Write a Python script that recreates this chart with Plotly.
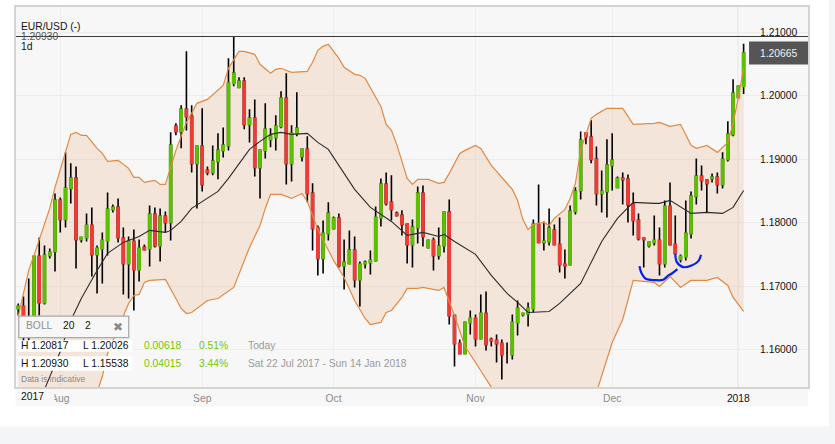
import plotly.graph_objects as go

high = [1.16728,1.16838,1.17121,1.17468,1.17767,1.17641,1.17594,1.18460,1.18397,1.19106,
1.18933,1.18885,1.17767,1.18145,1.18240,1.17641,1.17846,1.18476,1.18287,1.18381,
1.17925,1.17783,1.17893,1.17736,1.17657,1.18271,1.18240,1.18224,1.18177,1.19421,
1.19563,1.19846,1.20696,1.19846,1.19216,1.19799,1.18885,1.19216,1.19405,1.19499,
1.20586,1.20930,1.20287,1.20287,1.19783,1.19940,1.19137,1.19878,1.19484,1.19689,
1.20067,1.20350,1.19531,1.20051,1.19153,1.19358,1.18618,1.17956,1.18035,1.18319,
1.18098,1.18145,1.17736,1.17878,1.17783,1.17389,1.17405,1.17563,1.18255,1.18696,
1.18791,1.18744,1.18177,1.18193,1.17972,1.18051,1.18570,1.18586,1.17736,1.17767,
1.17925,1.18177,1.18366,1.16539,1.16161,1.16444,1.16618,1.16555,1.16870,1.16917,
1.16193,1.16240,1.16161,1.16114,1.16555,1.16775,1.16570,1.16744,1.18051,1.18602,
1.18019,1.18224,1.17972,1.18082,1.17578,1.18271,1.18555,1.19436,1.19405,1.19610,
1.19200,1.18822,1.19311,1.19405,1.18728,1.18791,1.18759,1.18476,1.18145,1.17752,
1.17704,1.18114,1.17925,1.18350,1.18633,1.18114,1.17500,1.18350,1.18492,1.19011,
1.18901,1.18681,1.18775,1.18791,1.19106,1.19594,1.20256,1.20146,1.20817]
low = [1.16539,1.16066,1.16145,1.16303,1.16539,1.16712,1.17437,1.17232,1.17846,1.17925,
1.18303,1.17279,1.17689,1.17704,1.17153,1.16885,1.17043,1.17484,1.18161,1.17689,
1.16870,1.16806,1.16618,1.17075,1.17563,1.17310,1.17610,1.17389,1.17846,1.17720,
1.19374,1.19169,1.19452,1.18791,1.18224,1.18492,1.18744,1.18744,1.18681,1.19027,
1.19137,1.20146,1.20114,1.19468,1.19263,1.18728,1.18381,1.19011,1.19185,1.19137,
1.19484,1.18602,1.18649,1.19358,1.18964,1.18319,1.17563,1.17169,1.17200,1.17720,
1.17893,1.17295,1.16948,1.17358,1.16980,1.16681,1.17279,1.17185,1.17389,1.17941,
1.18271,1.18035,1.18098,1.17799,1.17358,1.17295,1.17673,1.17626,1.17594,1.17248,
1.17421,1.17531,1.16397,1.15736,1.15941,1.15941,1.16240,1.16051,1.16161,1.15988,
1.16051,1.15799,1.15531,1.15783,1.15846,1.16224,1.16523,1.16366,1.16586,1.17689,
1.17563,1.17641,1.17657,1.17216,1.17122,1.17326,1.18130,1.18366,1.19232,1.18933,
1.18271,1.18161,1.18082,1.18507,1.18555,1.18287,1.18004,1.17799,1.17720,1.17295,
1.17610,1.17641,1.17169,1.17295,1.17641,1.17516,1.17374,1.17405,1.17752,1.18287,
1.18507,1.18161,1.18633,1.18460,1.18539,1.18964,1.19358,1.19972,1.20026]
open_ = [1.16649,1.16681,1.16303,1.16429,1.17468,1.16744,1.17484,1.17547,1.18350,1.18051,
1.18539,1.18696,1.17736,1.17767,1.17956,1.17500,1.17594,1.17720,1.18208,1.18240,
1.17752,1.17358,1.17704,1.17263,1.17610,1.17594,1.18130,1.17641,1.18098,1.18004,
1.19515,1.19436,1.19783,1.19673,1.18933,1.19200,1.18822,1.18791,1.18964,1.19137,
1.19216,1.20193,1.20130,1.20224,1.19547,1.19641,1.18870,1.19137,1.19311,1.19342,
1.19515,1.19956,1.18933,1.19405,1.19043,1.19153,1.18460,1.17909,1.17437,1.17830,
1.17909,1.18067,1.17326,1.17358,1.17563,1.17106,1.17358,1.17374,1.17405,1.18082,
1.18602,1.18319,1.18145,1.18114,1.17972,1.17657,1.17925,1.18460,1.17610,1.17720,
1.17484,1.17641,1.18161,1.16539,1.16098,1.15941,1.16429,1.16492,1.16177,1.16570,
1.16161,1.16145,1.16098,1.15956,1.15925,1.16429,1.16555,1.16570,1.16649,1.17972,
1.17689,1.17704,1.17878,1.17657,1.17342,1.17342,1.18177,1.18507,1.19405,1.19342,
1.18996,1.18460,1.18492,1.18901,1.18555,1.18696,1.18681,1.18287,1.18035,1.17752,
1.17641,1.17689,1.17720,1.17358,1.18255,1.17657,1.17421,1.17468,1.17830,1.18413,
1.18728,1.18665,1.18696,1.18712,1.18602,1.18996,1.19389,1.19972,1.20147]
close = [1.16681,1.16224,1.16492,1.17468,1.16744,1.17484,1.17531,1.18350,1.18051,1.18539,
1.18696,1.17736,1.17767,1.17956,1.17500,1.17594,1.17720,1.18208,1.18240,1.17767,
1.17358,1.17704,1.17263,1.17594,1.17578,1.18130,1.17641,1.18098,1.18004,1.19216,
1.19436,1.19783,1.19673,1.18933,1.19200,1.18602,1.18791,1.18964,1.19137,1.19216,
1.20193,1.20350,1.20224,1.19547,1.19641,1.18870,1.19137,1.19468,1.19358,1.19515,
1.19956,1.18933,1.19405,1.19484,1.19153,1.18460,1.17909,1.17437,1.17830,1.18145,
1.18067,1.17326,1.17374,1.17563,1.17106,1.17342,1.17374,1.17405,1.18082,1.18602,
1.18303,1.18208,1.18114,1.17972,1.17657,1.17925,1.18460,1.17783,1.17720,1.17484,
1.17626,1.18161,1.16539,1.16098,1.15941,1.16429,1.16492,1.16177,1.16570,1.16082,
1.16145,1.16098,1.15925,1.15956,1.16429,1.16649,1.16570,1.16649,1.17972,1.17689,
1.17704,1.17909,1.17657,1.17342,1.17326,1.18177,1.18492,1.19295,1.19358,1.18996,
1.18460,1.18492,1.18901,1.18980,1.18696,1.18681,1.18287,1.18035,1.17752,1.17736,
1.17689,1.17720,1.17358,1.18255,1.17657,1.17516,1.17468,1.17830,1.18413,1.18728,
1.18665,1.18618,1.18712,1.18602,1.18996,1.19389,1.20035,1.20146,1.20665]
session = list(range(len(close)))

upper_at = [0,2,3,6,7,9,10,11,12,13,15,16,17,19,21,22,23,24,26,27,28,30,32,33,34,36,39,40,42,43,45,46,48,49,50,52,55,56,57,58,59,61,62,64,65,66,69,70,71,72,74,75,76,78,80,81,82,84,85,87,88,90,94,95,96,97,98,100,101,102,104,105,106,107,108,109,110,112,115,117,121,122,124,126,128,129,131,133,135,136,137,138]
upper = [1.16524,1.17248,1.17484,1.18224,1.18555,1.19090,1.19389,1.19421,1.19374,1.19374,1.19169,1.19090,1.18964,1.18980,1.18854,1.18712,1.18712,1.18633,1.18665,1.18602,1.18602,1.19137,1.19578,1.19720,1.19878,1.19940,1.20161,1.20429,1.20696,1.20696,1.20649,1.20492,1.20350,1.20413,1.20429,1.20366,1.20381,1.20523,1.20712,1.20775,1.20807,1.20586,1.20444,1.20334,1.20319,1.20271,1.19830,1.19547,1.19452,1.19232,1.18696,1.18602,1.18681,1.18681,1.18618,1.18633,1.18775,1.19090,1.19137,1.19216,1.19169,1.18901,1.18523,1.18350,1.18051,1.17893,1.17972,1.18004,1.17956,1.18067,1.18208,1.18381,1.18618,1.19137,1.19405,1.19641,1.19704,1.19799,1.19799,1.19547,1.19563,1.19578,1.19515,1.19547,1.19216,1.19169,1.19216,1.19106,1.19263,1.19563,1.19972,1.20429]
lower_at = [0,8,15,16,17,21,22,23,24,25,28,30,31,32,33,36,38,41,42,44,46,47,48,50,52,54,55,56,57,60,62,64,66,67,69,70,71,73,74,76,77,80,81,83,85,87,89,91,95,99,103,105,108,109,110,112,113,115,116,117,121,122,124,126,128,131,133,135,136,138]
lower = [1.14728,1.15043,1.15326,1.15578,1.15941,1.16728,1.16854,1.16870,1.17059,1.17090,1.17106,1.16806,1.16649,1.16570,1.16586,1.16775,1.16806,1.16980,1.17185,1.17610,1.17956,1.18224,1.18444,1.18444,1.18381,1.18460,1.18334,1.18114,1.17893,1.17405,1.17137,1.16775,1.16492,1.16397,1.16429,1.16586,1.16618,1.16822,1.16964,1.16964,1.16980,1.16933,1.16980,1.16539,1.16051,1.15799,1.15547,1.15279,1.14885,1.14413,1.14098,1.14570,1.14728,1.15200,1.15326,1.15877,1.16114,1.16476,1.16775,1.17090,1.17059,1.16996,1.17153,1.16980,1.17090,1.17090,1.17137,1.17011,1.16822,1.16602]
middle_at = [5,8,10,12,15,17,20,23,25,28,29,31,33,36,38,40,42,44,46,48,50,52,55,57,59,62,64,67,71,74,77,80,81,83,87,90,93,95,97,101,103,107,111,114,117,121,122,124,127,128,131,134,136,138]
middle = [1.15374,1.15972,1.16460,1.16806,1.17248,1.17516,1.17689,1.17783,1.17878,1.17846,1.17878,1.18019,1.18224,1.18381,1.18492,1.18696,1.18933,1.19153,1.19279,1.19389,1.19421,1.19389,1.19405,1.19263,1.19153,1.18775,1.18523,1.18240,1.18019,1.17799,1.17846,1.17783,1.17815,1.17704,1.17500,1.17169,1.16885,1.16744,1.16586,1.16602,1.16728,1.17043,1.17704,1.18067,1.18319,1.18303,1.18303,1.18350,1.18193,1.18145,1.18161,1.18145,1.18240,1.18507]

sketch1_at = [118.2,118.5,119.4,121.2,122.7,123.7,124.3,125.4]
sketch1 = [1.17315,1.17220,1.17117,1.17095,1.17101,1.17169,1.17196,1.17268]
sketch2_at = [125.0,125.3,126.5,128.1,129.4,129.9]
sketch2 = [1.17511,1.17379,1.17300,1.17326,1.17394,1.17495]

price_ticks = [1.16,1.17,1.18,1.19,1.20,1.21]
price_labels = ["1.16000","1.17000","1.18000","1.19000","1.20000","1.21000"]
date_ticks = [8,35,60,87,113,137]
date_labels = ["Aug","Sep","Oct","Nov","Dec","<span style='color:#111'>2018</span>"]
period_high = 1.20930
last_price = "1.20665"

GREEN, RED = "#5cbf00", "#ee3b36"
FONT = "Liberation Sans"
L, R, T, B = 15.5, 808.0, 6.5, 386.7

def px(x): return (x - L) / (R - L)
def py(y): return 1 - (y - T) / (B - T)

YR = [1.15413, 1.21394]
XR = [-0.42, 150.25]

fig = go.Figure()
fig.add_trace(go.Scatter(x=upper_at, y=upper, mode="lines", line=dict(width=0), hoverinfo="skip", showlegend=False))
fig.add_trace(go.Scatter(x=lower_at, y=lower, mode="lines", line=dict(width=0), fill="tonexty",
                         fillcolor="rgba(232,182,140,0.28)", hoverinfo="skip", showlegend=False))

fig.add_trace(go.Candlestick(x=session, open=open_, high=high, low=low, close=close, yaxis="y2", showlegend=False,
    whiskerwidth=0,
    increasing=dict(line=dict(color="#000", width=1.6), fillcolor="#000"),
    decreasing=dict(line=dict(color="#000", width=1.6), fillcolor="#000")))

body = [k for k in session if open_[k] != close[k]]
fig.add_trace(go.Candlestick(x=body, open=[open_[k] for k in body], close=[close[k] for k in body],
    high=[max(open_[k], close[k]) for k in body], low=[min(open_[k], close[k]) for k in body],
    yaxis="y2", showlegend=False, whiskerwidth=0,
    increasing=dict(line=dict(color=GREEN, width=1.9), fillcolor=GREEN),
    decreasing=dict(line=dict(color=RED, width=1.9), fillcolor=RED)))

fig.add_trace(go.Scatter(x=upper_at, y=upper, yaxis="y2", mode="lines", line=dict(color="#e08a45", width=1.2), showlegend=False))
fig.add_trace(go.Scatter(x=lower_at, y=lower, yaxis="y2", mode="lines", line=dict(color="#e08a45", width=1.2), showlegend=False))
fig.add_trace(go.Scatter(x=middle_at, y=middle, yaxis="y2", mode="lines", line=dict(color="#2b2b2b", width=1.1), showlegend=False))
fig.add_trace(go.Scatter(x=sketch1_at, y=sketch1, yaxis="y2", mode="lines", line=dict(color="#0a22e6", width=2.2, shape="spline"), showlegend=False))
fig.add_trace(go.Scatter(x=sketch2_at, y=sketch2, yaxis="y2", mode="lines", line=dict(color="#0a22e6", width=2.2, shape="spline"), showlegend=False))

shapes = [
    dict(type="rect", xref="paper", yref="paper", x0=px(15), x1=px(R), y0=py(B), y1=py(406),
         fillcolor="#f7f7f7", line_width=0, layer="below"),
    dict(type="rect", xref="paper", yref="paper", x0=px(-1), x1=px(836), y0=py(426), y1=py(445),
         fillcolor="#f4f5f7", line_width=0, layer="below"),
    dict(type="rect", xref="paper", yref="paper", x0=px(829), x1=px(836), y0=py(-1), y1=py(445),
         fillcolor="#f4f5f7", line_width=0, layer="below"),
    dict(type="line", xref="x", yref="paper", x0=137, x1=137, y0=0, y1=1,
         line=dict(color="#bdbdbd", width=1), layer="below"),
    dict(type="line", xref="paper", yref="y", x0=0, x1=1, y0=period_high, y1=period_high,
         line=dict(color="#3a3a3a", width=1.2), layer="above"),
    dict(type="rect", xref="paper", yref="paper", x0=px(749), x1=px(R), y0=py(41), y1=py(64),
         fillcolor="#555555", line_width=0, layer="above"),
    dict(type="rect", xref="paper", yref="paper", x0=px(17), x1=px(132), y0=py(340), y1=py(351.5),
         fillcolor="#ffffff", line_width=0, layer="above"),
    dict(type="rect", xref="paper", yref="paper", x0=px(17), x1=px(132), y0=py(356), y1=py(370.5),
         fillcolor="#ffffff", line_width=0, layer="above"),
    dict(type="rect", xref="paper", yref="paper", x0=px(18.3), x1=px(128.3), y0=py(315.7), y1=py(337.3),
         fillcolor="#f7f7f7", line=dict(color="#aaaaaa", width=1.3), layer="above"),
]

def note(x, y, text, color="#111", size=10.3, anchor="left", family=FONT, **kw):
    return dict(xref="paper", yref="paper", x=px(x), y=py(y), text=text, showarrow=False,
                xanchor=anchor, yanchor="middle", align="left", borderpad=0,
                font=dict(family=family, size=size, color=color), **kw)

LG = "#76c600"
GR = "#9a9a9a"
annotations = [
    note(19.5, 26, "EUR/USD (-)"),
    note(19.5, 36, "1.20930", color="#555"),
    note(20, 46, "1d"),
    note(798, 53, last_price, color="#f2f2f2", anchor="right"),
    note(25, 325, "BOLL", color="#8f8f8f"),
    note(62, 325, "20"),
    note(84, 325, "2"),
    note(117.5, 326.5, "\u2716", color="#8a8a8a", size=12, anchor="center", family="DejaVu Sans"),
    note(20, 345.5, "H 1.20817"),
    note(82, 345.5, "L 1.20026"),
    note(143, 345.5, "0.00618", color=LG),
    note(198, 345.5, "0.51%", color=LG),
    note(247, 345.5, "Today", color=GR),
    note(20, 363.5, "H 1.20930"),
    note(82, 363.5, "L 1.15538"),
    note(143, 363.5, "0.04015", color=LG),
    note(198, 363.5, "3.44%", color=LG),
    note(247, 363.5, "Sat 22 Jul 2017 - Sun 14 Jan 2018", color=GR),
    note(20, 379, "Data is indicative", color="#8a8a8a", size=8.5),
    note(20, 396, "2017", bgcolor="#f7f7f7", width=33),
]

fig.update_layout(
    width=835, height=444, autosize=False,
    margin=dict(l=L, r=835 - R, t=T, b=444 - B, pad=0),
    paper_bgcolor="#ffffff", plot_bgcolor="#f7f7f7",
    showlegend=False, boxgap=0.52, boxmode="overlay",
    font=dict(family=FONT, size=10.3, color="#111"),
    shapes=shapes, annotations=annotations,
    xaxis=dict(range=XR, tickmode="array", tickvals=date_ticks, ticktext=date_labels,
               rangeslider=dict(visible=False), showgrid=True, gridcolor="#eeeef1", gridwidth=1,
               zeroline=False, showline=True, mirror=True, linecolor="#d3d3d0", linewidth=1.5,
               ticks="", ticklabelstandoff=1, tickfont=dict(family=FONT, size=10.3, color="#8c8c8c")),
    yaxis=dict(range=YR, side="right", tickmode="array", tickvals=price_ticks, ticktext=price_labels,
               ticklabelposition="inside", ticklabelstandoff=10, ticks="",
               showgrid=True, gridcolor="#ececec", gridwidth=1, zeroline=False,
               showline=True, mirror=True, linecolor="#d3d3d0", linewidth=1.5,
               tickfont=dict(family=FONT, size=10.3, color="#111")),
    yaxis2=dict(range=YR, overlaying="y", side="right", showticklabels=False, showgrid=False,
                zeroline=False, ticks=""),
)

fig.write_html("out.html", config={"displayModeBar": False}, post_script="document.body.style.margin='0';")
